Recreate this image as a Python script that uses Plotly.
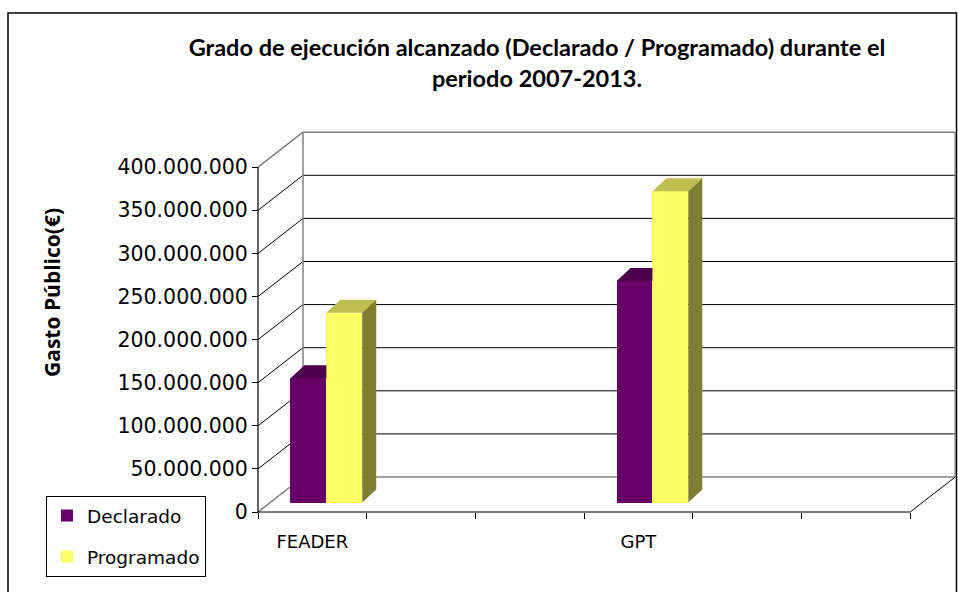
import plotly.graph_objects as go

# ---- data -------------------------------------------------------------
slot_labels = ["FEADER", "", "", "GPT", "", ""]   # six category slots on the x axis
categories = ["FEADER", "GPT"]
declarado = [144_000_000, 257_000_000]
programado = [220_000_000, 361_000_000]
y_tick_values = [0, 50_000_000, 100_000_000, 150_000_000, 200_000_000,
                 250_000_000, 300_000_000, 350_000_000, 400_000_000]
y_tick_text = ["0" if v == 0 else f"{v:,}".replace(",", ".") for v in y_tick_values]

title_text = ("Grado de ejecución alcanzado (Declarado / Programado) durante el"
              "<br>periodo 2007-2013.")
y_title = "Gasto Público(€)"

# ---- geometry ---------------------------------------------------------
W, H = 958, 592
M_L, M_R, M_T, M_B = 247, 2, 120, 70
PX_SLOT = 108.7             # pixels per category slot
PX_UNIT = 0.862 / 1e6       # pixels per euro
ORIGIN_X, ORIGIN_Y = 258, 512   # pixel position of (0, 0)

x_range = [(M_L - ORIGIN_X) / PX_SLOT, (W - M_R - ORIGIN_X) / PX_SLOT]
y_range = [(ORIGIN_Y - (H - M_B)) / PX_UNIT, (ORIGIN_Y - M_T) / PX_UNIT]

n_slots = len(slot_labels)
y_max = y_tick_values[-1]

# oblique depth of the walls and of the columns
WALL_DX, WALL_DY = 45 / PX_SLOT, 35 / PX_UNIT
FRONT_DX, FRONT_DY = 14 / PX_SLOT, 9.5 / PX_UNIT
BAR_DX, BAR_DY = 14 / PX_SLOT, 13 / PX_UNIT
BAR_W = 0.33

C_DECL, C_DECL_TOP = "#660066", "#4c004c"
C_PROG, C_PROG_TOP, C_PROG_SIDE = "#ffff66", "#bfbf4f", "#7f7f33"
GREY = "#808080"

pos = [slot_labels.index(c) + 0.5 for c in categories]

fig = go.Figure()

# front faces
fig.add_trace(go.Bar(
    name="Declarado", x=pos, y=declarado, base=[FRONT_DY] * len(pos),
    width=BAR_W, offset=FRONT_DX - BAR_W, marker=dict(color=C_DECL, line_width=0),
    legendgroup="d", hoverinfo="skip"))
fig.add_trace(go.Bar(
    name="Programado", x=pos, y=programado, base=[FRONT_DY] * len(pos),
    width=BAR_W, offset=FRONT_DX, marker=dict(color=C_PROG, line_width=0),
    legendgroup="p", hoverinfo="skip"))


def poly(xs, ys, color):
    fig.add_trace(go.Scatter(x=xs + [xs[0]], y=ys + [ys[0]], fill="toself",
                             fillcolor=color, mode="lines", line=dict(width=0, color=color),
                             showlegend=False, hoverinfo="skip"))


for p, vd, vp in zip(pos, declarado, programado):
    x0 = p + FRONT_DX - BAR_W
    x1 = p + FRONT_DX
    x2 = p + FRONT_DX + BAR_W
    td = FRONT_DY + vd
    tp = FRONT_DY + vp
    # visible part of the Declarado top
    poly([x0, x0 + BAR_DX, x1, x1], [td, td + BAR_DY, td + BAR_DY, td], C_DECL_TOP)
    # Programado top and side
    poly([x1, x1 + BAR_DX, x2 + BAR_DX, x2], [tp, tp + BAR_DY, tp + BAR_DY, tp], C_PROG_TOP)
    poly([x2, x2 + BAR_DX, x2 + BAR_DX, x2],
         [FRONT_DY, FRONT_DY + BAR_DY, tp + BAR_DY, tp], C_PROG_SIDE)

# ---- walls, floor and gridlines --------------------------------------
shapes = []


def seg(xa, ya, xb, yb, color="black", width=1):
    shapes.append(dict(type="line", xref="x", yref="y", x0=xa, y0=ya, x1=xb, y1=yb,
                       line=dict(color=color, width=width), layer="below"))


for v in y_tick_values:
    edge = v in (0, y_max)
    c = GREY if edge else "black"
    w = 1.5 if edge else 1
    seg(WALL_DX, v + WALL_DY, n_slots + WALL_DX, v + WALL_DY, c, w)   # back wall
    seg(0, v, WALL_DX, v + WALL_DY, c, w)                               # side wall

seg(WALL_DX, WALL_DY, WALL_DX, y_max + WALL_DY, GREY, 1.5)
seg(n_slots + WALL_DX, WALL_DY, n_slots + WALL_DX, y_max + WALL_DY, GREY, 1.5)
seg(n_slots, 0, n_slots + WALL_DX, WALL_DY, "black", 1)
seg(0, 0, 0, y_max, "black", 1.2)          # value axis
seg(0, 0, n_slots, 0, "black", 1.2)        # category axis


# outer chart frame
def px_x(px):
    return (px - M_L) / (W - M_L - M_R)


def px_y(py):
    return ((H - M_B) - py) / (H - M_T - M_B)


shapes.append(dict(type="rect", xref="paper", yref="paper",
                   x0=px_x(8), x1=px_x(956.5), y0=px_y(620), y1=px_y(13),
                   line=dict(color="black", width=1.5), layer="below"))

fig.update_layout(
    width=W, height=H,
    margin=dict(l=M_L, r=M_R, t=M_T, b=M_B, autoexpand=False),
    paper_bgcolor="white", plot_bgcolor="white",
    barmode="overlay", bargap=0,
    shapes=shapes,
    showlegend=True,
    title=dict(text=title_text, x=537 / W, xanchor="center", xref="container",
               y=1 - 56 / H, yanchor="top",
               font=dict(family="Lato", size=23.5, color="black", weight="bold")),
    legend=dict(x=px_x(46), y=px_y(496), xanchor="left", yanchor="top",
                bordercolor="black", borderwidth=1, bgcolor="white",
                font=dict(family="DejaVu Sans", size=18.5, color="black"),
                tracegroupgap=14, itemwidth=30),
    annotations=[dict(text=y_title, textangle=-90, xref="paper", yref="paper",
                      x=px_x(36), y=px_y(293), showarrow=False,
                      font=dict(family="Open Sans", size=21, color="black", weight="bold"))],
    xaxis=dict(range=x_range, anchor="free", position=px_y(ORIGIN_Y),
               tickmode="array", tickvals=[i + 0.5 for i in range(n_slots)],
               ticktext=slot_labels, ticks="outside", ticklen=13,
               tickcolor="rgba(0,0,0,0)",
               minor=dict(tickmode="array", tickvals=list(range(n_slots + 1)),
                          ticks="outside", ticklen=6, tickcolor="black", tickwidth=1),
               showgrid=False, zeroline=False, showline=False,
               tickfont=dict(family="DejaVu Sans", size=18, color="black")),
    yaxis=dict(range=y_range, anchor="free", position=px_x(ORIGIN_X),
               tickmode="array", tickvals=y_tick_values, ticktext=y_tick_text,
               ticks="outside", ticklen=6, tickcolor="black", tickwidth=1,
               showgrid=False, zeroline=False, showline=False,
               tickfont=dict(family="DejaVu Sans", size=20.5, color="black")),
)

fig.write_html("out.html")
